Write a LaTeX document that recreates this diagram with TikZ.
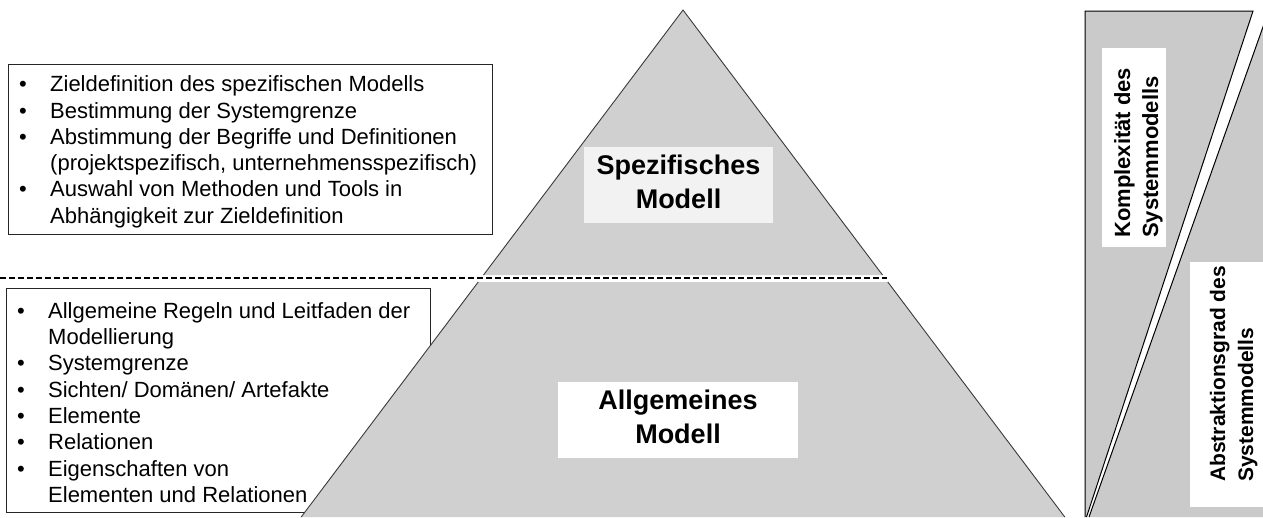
\documentclass[tikz,border=0pt]{standalone}
\usepackage{fontspec}
\setmainfont{Liberation Sans}

\definecolor{pyrfill}{HTML}{D0D0D0}
\definecolor{sidefill}{HTML}{CACACA}
\definecolor{labelfill}{HTML}{F2F2F2}
\definecolor{edgegray}{HTML}{3A3A3A}

\tikzset{
  listbox/.style={draw=black!85, line width=0.9pt, fill=white, anchor=north west, inner sep=0pt},
  listtext/.style={anchor=base west, inner sep=0pt, font=\fontsize{22}{26.3}\selectfont},
  pyrlabel/.style={inner sep=0pt, font=\bfseries\fontsize{27}{33.5}\selectfont},
  pyredge/.style={draw=edgegray, line width=0.9pt},
  sideedge/.style={draw=black, line width=1pt},
  sidebox/.style={fill=white, anchor=north west, inner sep=0pt},
  sidelabel/.style={rotate=90, anchor=base west, inner sep=0pt},
  sepline/.style={line width=1.5pt, dash pattern=on 6pt off 3pt},
}

\begin{document}
\begin{tikzpicture}[x=1pt, y=-1pt]
  \useasboundingbox (0,0) rectangle (1263,517);
  \clip (0,0) rectangle (1263,517);

  % list of tasks for the specific model
  \node[listbox, minimum width=484pt, minimum height=170pt] (specBox) at (8,64) {};
  \node[listtext] (specList) at (19,91.7) {%
    \begin{tabular}[t]{@{}p{31pt}@{}l@{}}
      • & Zieldefinition des spezifischen Modells\\
      • & Bestimmung der Systemgrenze\\
      • & Abstimmung der Begriffe und Definitionen\\
        & (projektspezifisch, unternehmensspezifisch)\\
      • & Auswahl von Methoden und Tools in\\
        & Abhängigkeit zur Zieldefinition
    \end{tabular}};

  % list of contents of the general model
  \node[listbox, minimum width=424pt, minimum height=224pt] (genBox) at (6,288) {};
  \node[listtext] (genList) at (17,318.3) {%
    \begin{tabular}[t]{@{}p{31pt}@{}l@{}}
      • & Allgemeine Regeln und Leitfaden der\\
        & Modellierung\\
      • & Systemgrenze\\
      • & Sichten/ Domänen/ Artefakte\\
      • & Elemente\\
      • & Relationen\\
      • & Eigenschaften von\\
        & Elementen und Relationen
    \end{tabular}};

  % pyramid: specific tip and general base
  \coordinate (apex) at (683,10);
  \coordinate (tipL) at (483.5,275);
  \coordinate (tipR) at (882.5,275);
  \coordinate (baseTL) at (478.2,282);
  \coordinate (baseTR) at (887.8,282);
  \coordinate (baseBR) at (1064.8,517);
  \coordinate (baseBL) at (301.2,517);
  \fill[pyrfill] (apex) -- (tipL) -- (tipR) -- cycle;
  \draw[pyredge] (tipL) -- (apex) -- (tipR);
  \fill[pyrfill] (baseTL) -- (baseTR) -- (baseBR) -- (baseBL) -- cycle;
  \draw[pyredge] (baseTL) -- (baseBL);
  \draw[pyredge] (baseTR) -- (baseBR);

  % separation between the two model levels
  \coordinate (sepL) at (0,278);
  \coordinate (sepR) at (887,278);
  \draw[sepline] (sepL) -- (sepR);

  \node[pyrlabel, fill=labelfill, minimum width=189pt, minimum height=76pt] (specLabel) at (678.5,185)
    {\begin{tabular}{@{}c@{}}Spezifisches\\Modell\end{tabular}};
  \node[pyrlabel, fill=white, minimum width=240pt, minimum height=76pt] (genLabel) at (678,420)
    {\begin{tabular}{@{}c@{}}Allgemeines\\Modell\end{tabular}};

  % opposing wedges: complexity vs. abstraction
  \coordinate (kTL) at (1085,11);
  \coordinate (kTR) at (1253,11);
  \coordinate (kBR) at (1086.5,517);
  \coordinate (kBL) at (1085,517);
  \fill[sidefill] (kTL) -- (kTR) -- (kBR) -- (kBL) -- cycle;
  \draw[sideedge] (kBL) -- (kTL) -- (kTR) -- (kBR);

  \coordinate (aBL) at (1089,517);
  \coordinate (aTop) at (1266.5,17);
  \coordinate (aTR) at (1275,17);
  \coordinate (aBR) at (1275,517);
  \fill[sidefill] (aBL) -- (aTop) -- (aTR) -- (aBR) -- cycle;
  \draw[sideedge] (aBL) -- (aTop);

  \node[sidebox, minimum width=64pt, minimum height=199pt] (kBox) at (1102,48) {};
  \node[sidelabel, font=\bfseries\fontsize{22}{28}\selectfont] (kText) at (1130,238)
    {\begin{tabular}[t]{@{}l@{}}Komplexität des\\Systemmodells\end{tabular}};

  \node[sidebox, minimum width=76pt, minimum height=245pt] (aBox) at (1190,262) {};
  \node[sidelabel, font=\bfseries\fontsize{21}{28}\selectfont] (aText) at (1225,482)
    {\begin{tabular}[t]{@{}l@{}}Abstraktionsgrad des\\Systemmodells\end{tabular}};
\end{tikzpicture}
\end{document}
